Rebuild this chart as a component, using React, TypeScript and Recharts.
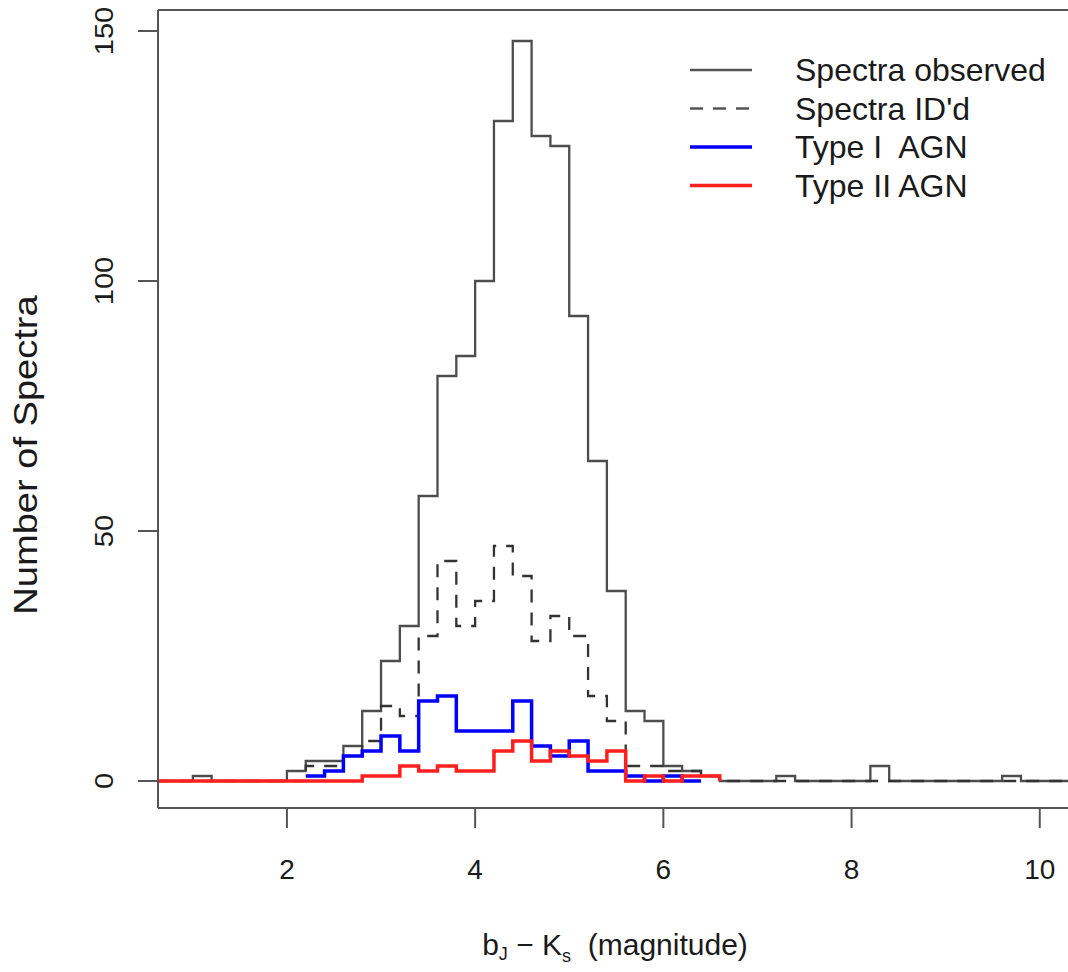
import React from "react";
import { LineChart, Line, XAxis, YAxis, ReferenceLine } from "recharts";

// bin edges of the histogram (width 0.2 mag)
const binEdges = [
  0.6, 0.8, 1.0, 1.2, 1.4, 1.6, 1.8, 2.0, 2.2, 2.4, 2.6, 2.8, 3.0, 3.2, 3.4, 3.6, 3.8,
  4.0, 4.2, 4.4, 4.6, 4.8, 5.0, 5.2, 5.4, 5.6, 5.8, 6.0, 6.2, 6.4, 6.6, 6.8, 7.0, 7.2,
  7.4, 7.6, 7.8, 8.0, 8.2, 8.4, 8.6, 8.8, 9.0, 9.2, 9.4, 9.6, 9.8, 10.0, 10.2, 10.4,
];

// counts per bin (null = series not drawn there)
const spectraObserved = [
  0, 0, 1, 0, 0, 0, 0, 2, 4, 4, 7, 14, 24, 31, 57, 81, 85, 100, 132, 148, 129, 127, 93,
  64, 38, 14, 12, 3, 2, 1, 0, 0, 0, 1, 0, 0, 0, 0, 3, 0, 0, 0, 0, 0, 0, 1, 0, 0, 0,
];
const spectraIdd = [
  0, 0, 0, 0, 0, 0, 0, 0, 3, 3, 5, 8, 15, 13, 29, 44, 31, 36, 47, 41, 28, 33, 29, 17,
  12, 3, 3, 2, 2, 1, 0, 0, 0, 0, 0, 0, 0, 0, 0, 0, 0, 0, 0, 0, 0, 0, 0, 0, 0,
];
const typeIAgn = [
  null, null, null, null, null, null, null, null, 1, 2, 5, 6, 9, 6, 16, 17, 10, 10, 10,
  16, 7, 5, 8, 2, 2, 1, 0, 1, 0,
];
const typeIIAgn = [
  0, 0, 0, 0, 0, 0, 0, 0, 0, 0, 0, 1, 1, 3, 2, 3, 2, 2, 6, 8, 4, 6, 5, 4, 6, 0, 1, 0, 1, 1,
];

const xTicks = [2, 4, 6, 8, 10];
const yTicks = [0, 50, 100, 150];

const legendItems = [
  { label: "Spectra observed", color: "#555555", dash: undefined, width: 2.5 },
  { label: "Spectra ID'd", color: "#555555", dash: "13 10", width: 2.5 },
  { label: "Type I  AGN", color: "#0000ff", dash: undefined, width: 3.5 },
  { label: "Type II AGN", color: "#ff1f1f", dash: undefined, width: 3.5 },
];

const FONT = "'Liberation Sans', Arial, Helvetica, sans-serif";

// step rows: one point per bin start, closing point at the next edge dropping to 0
const toSteps = (counts: (number | null)[]) => {
  const rows: { x: number; y: number }[] = [];
  let last = -1;
  counts.forEach((c, i) => {
    if (c !== null) {
      rows.push({ x: binEdges[i], y: c });
      last = i;
    }
  });
  if (last >= 0) rows.push({ x: binEdges[last + 1], y: 0 });
  return rows;
};

const XTick = (props: any) => {
  const { x, y, payload } = props;
  return (
    <text x={x} y={y + 49} textAnchor="middle" fontSize={28} fontFamily={FONT} fill="#1a1a1a">
      {payload.value}
    </text>
  );
};

const YTick = (props: any) => {
  const { x, y, payload } = props;
  return (
    <text
      transform={`translate(${x - 23},${y}) rotate(-90) scale(1.12,1)`}
      textAnchor="middle"
      fontSize={26}
      fontFamily={FONT}
      fill="#1a1a1a"
    >
      {payload.value}
    </text>
  );
};

const XTitle = () => (
  <text x={615} y={955} textAnchor="middle" fontSize={30} fontFamily={FONT} fill="#1a1a1a" style={{ whiteSpace: "pre" }}>
    b
    <tspan fontSize={18} dy={5}>J</tspan>
    <tspan dy={-5}>{" \u2212 K"}</tspan>
    <tspan fontSize={18} dy={7}>s</tspan>
    <tspan dy={-7}>{"  (magnitude)"}</tspan>
  </text>
);

const YTitle = () => (
  <text
    transform="translate(37,455) rotate(-90) scale(1.12,1)"
    textAnchor="middle"
    fontSize={34}
    fontFamily={FONT}
    fill="#1a1a1a"
  >
    Number of Spectra
  </text>
);

export default function App() {
  const axisStroke = { stroke: "#555555", strokeWidth: 2 };
  return (
    <div style={{ position: "relative", width: 1068, height: 972, background: "#fff" }}>
      <style>{`body { margin: 0; }`}</style>
      <LineChart width={1068} height={972} margin={{ top: 10, right: 0, bottom: 0, left: 0 }}>
        <XAxis
          dataKey="x"
          type="number"
          domain={[0.63, 10.3]}
          allowDataOverflow
          ticks={xTicks}
          height={164}
          tickSize={20}
          axisLine={axisStroke}
          tickLine={axisStroke}
          tick={<XTick />}
          label={{ content: () => <XTitle /> }}
        />
        <YAxis
          type="number"
          domain={[-5.4, 154.2]}
          allowDataOverflow
          ticks={yTicks}
          width={158}
          tickSize={20}
          axisLine={axisStroke}
          tickLine={axisStroke}
          tick={<YTick />}
          label={{ content: () => <YTitle /> }}
        />
        <ReferenceLine y={154.2} stroke="#555555" strokeWidth={2} />
        <Line
          data={toSteps(spectraObserved)}
          dataKey="y"
          type="stepAfter"
          stroke="#4d4d4d"
          strokeWidth={2.3}
          dot={false}
          isAnimationActive={false}
        />
        <Line
          data={toSteps(spectraIdd)}
          dataKey="y"
          type="stepAfter"
          stroke="#333333"
          strokeWidth={2.3}
          strokeDasharray="13 10"
          dot={false}
          isAnimationActive={false}
        />
        <Line
          data={toSteps(typeIAgn)}
          dataKey="y"
          type="stepAfter"
          stroke="#0000ff"
          strokeWidth={3.5}
          dot={false}
          isAnimationActive={false}
        />
        <Line
          data={toSteps(typeIIAgn)}
          dataKey="y"
          type="stepAfter"
          stroke="#ff1f1f"
          strokeWidth={3.5}
          dot={false}
          isAnimationActive={false}
        />
      </LineChart>

      <svg width={1068} height={972} style={{ position: "absolute", left: 0, top: 0, pointerEvents: "none" }}>
        {legendItems.map((item, i) => {
          const cy = 70 + i * 38.5;
          return (
            <g key={item.label}>
              <line x1={690} x2={752} y1={cy} y2={cy} stroke={item.color} strokeWidth={item.width} strokeDasharray={item.dash} />
              <text x={795} y={cy + 11} fontSize={32} fontFamily={FONT} fill="#1a1a1a" style={{ whiteSpace: "pre" }}>
                {item.label}
              </text>
            </g>
          );
        })}
      </svg>
    </div>
  );
}
